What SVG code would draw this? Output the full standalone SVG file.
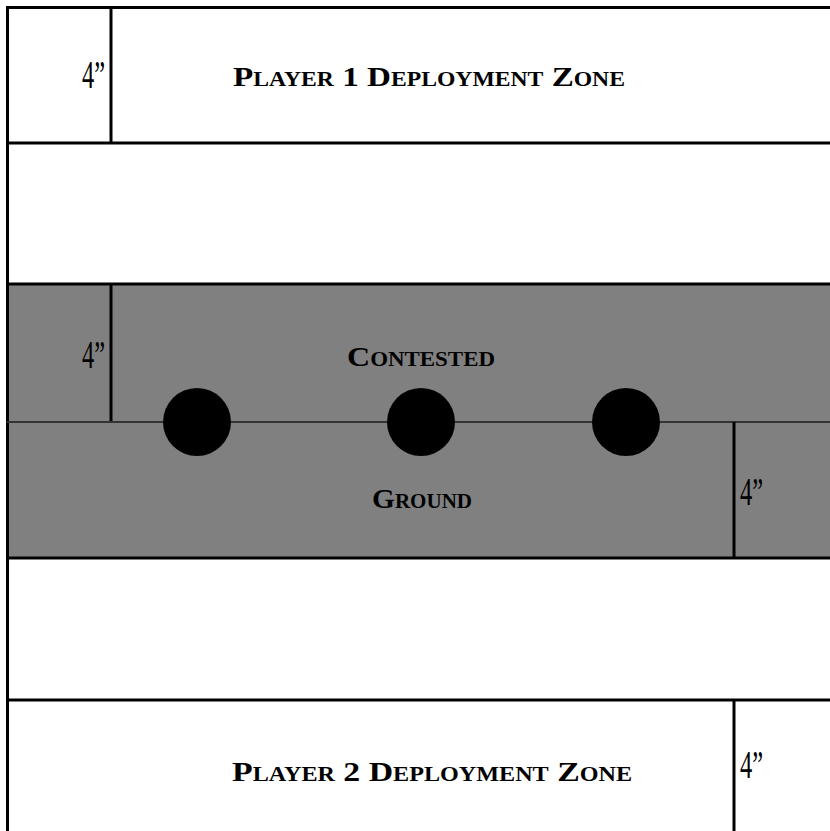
<svg xmlns="http://www.w3.org/2000/svg" width="830" height="831" viewBox="0 0 830 831">
<style>
.ln{stroke:#000;stroke-width:3;fill:none}
.th{stroke:#333;stroke-width:2;fill:none}
.lbl{font-family:"Liberation Serif",serif;font-variant:small-caps;font-weight:bold;font-size:28px;fill:#000;text-anchor:middle}
.inch{font-family:"Liberation Serif",serif;font-size:40px;fill:#000}
.obj{fill:#000}
</style>
<rect x="0" y="0" width="830" height="831" fill="#fff"/>
<g id="zone-contested">
<rect x="8" y="284" width="822" height="274" fill="#808080"/>
</g>
<g id="connectors">
<line class="ln" x1="6" y1="7.5" x2="830" y2="7.5"/>
<line class="ln" x1="7.5" y1="6" x2="7.5" y2="831"/>
<line class="ln" x1="111" y1="7" x2="111" y2="143"/>
<line class="ln" x1="7" y1="143" x2="830" y2="143"/>
<line class="ln" x1="7" y1="284" x2="830" y2="284"/>
<line class="ln" x1="111" y1="284" x2="111" y2="422"/>
<line class="th" x1="7" y1="422" x2="830" y2="422"/>
<line class="ln" x1="734" y1="422" x2="734" y2="558"/>
<line class="ln" x1="7" y1="558" x2="830" y2="558"/>
<line class="ln" x1="7" y1="700" x2="830" y2="700"/>
<line class="ln" x1="734" y1="700" x2="734" y2="831"/>
</g>
<g id="player1-zone">
<text class="inch" x="82" y="88" textLength="23" lengthAdjust="spacingAndGlyphs">4”</text>
<text class="lbl" x="429" y="86" textLength="392" lengthAdjust="spacingAndGlyphs">Player 1 Deployment Zone</text>
</g>
<g id="contested-ground">
<text class="inch" x="82" y="368" textLength="23" lengthAdjust="spacingAndGlyphs">4”</text>
<text class="lbl" x="421" y="366" textLength="148" lengthAdjust="spacingAndGlyphs">Contested</text>
<text class="lbl" x="422" y="508" textLength="100" lengthAdjust="spacingAndGlyphs">Ground</text>
<text class="inch" x="740" y="505" textLength="23" lengthAdjust="spacingAndGlyphs">4”</text>
</g>
<g id="objectives">
<circle class="obj" cx="197" cy="422" r="34"/>
<circle class="obj" cx="421" cy="422" r="34"/>
<circle class="obj" cx="626" cy="422" r="34"/>
</g>
<g id="player2-zone">
<text class="lbl" x="432" y="781" textLength="400" lengthAdjust="spacingAndGlyphs">Player 2 Deployment Zone</text>
<text class="inch" x="740" y="778" textLength="23" lengthAdjust="spacingAndGlyphs">4”</text>
</g>
</svg>
